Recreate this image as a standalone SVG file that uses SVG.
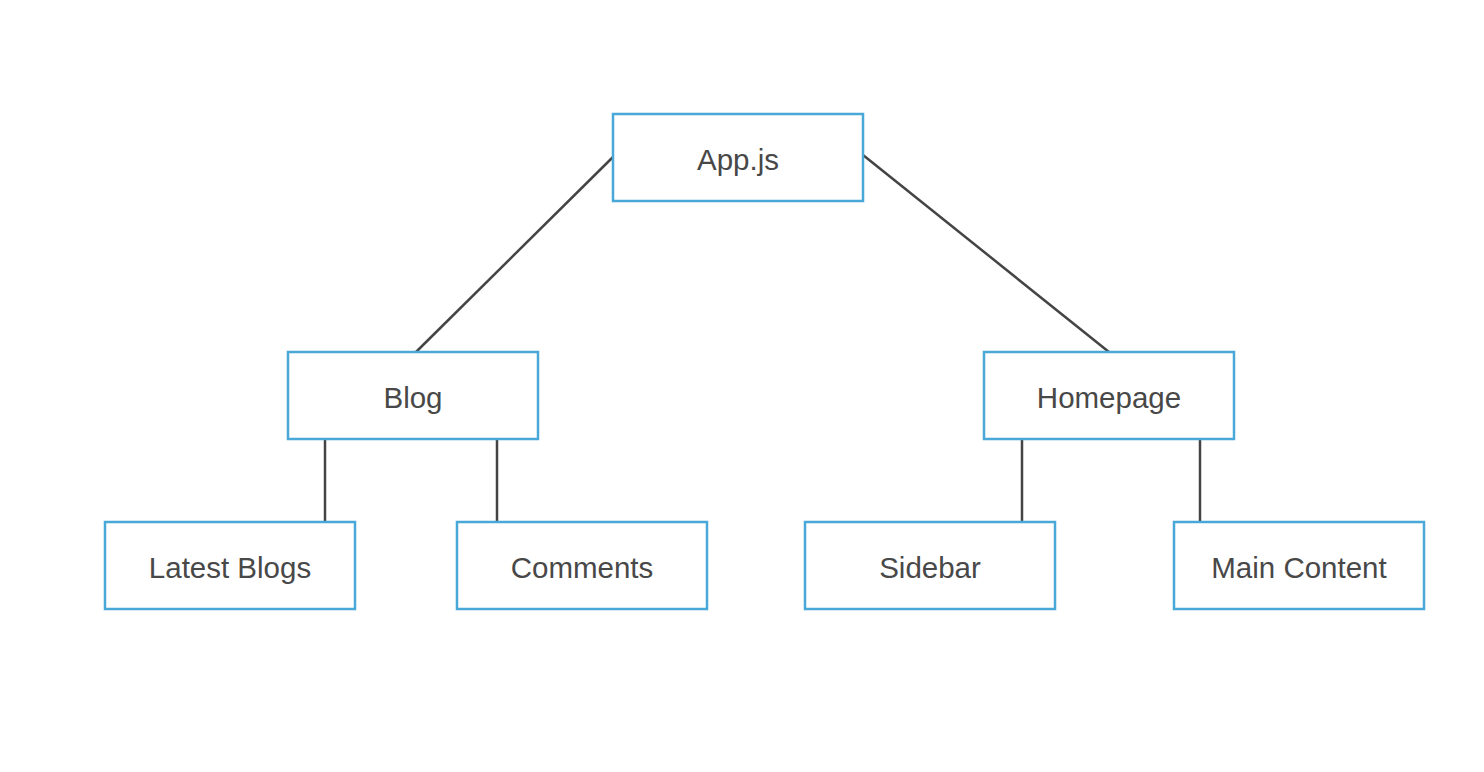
<svg xmlns="http://www.w3.org/2000/svg" width="1484" height="772" viewBox="0 0 1484 772">
<style>
.box{fill:#fff;stroke:#4aa8d8;stroke-width:2.5}
.lbl{font-family:"Liberation Sans",Arial,sans-serif;font-size:29.5px;fill:#484848;text-anchor:middle}
.conn line{stroke:#444;stroke-width:2.5}
</style>
<rect width="1484" height="772" fill="#fff"/>
<g id="connectors" class="conn">
<line x1="613" y1="157" x2="416" y2="352"/>
<line x1="863" y1="155" x2="1109" y2="352"/>
<line x1="325" y1="440" x2="325" y2="522"/>
<line x1="497" y1="440" x2="497" y2="522"/>
<line x1="1022" y1="440" x2="1022" y2="522"/>
<line x1="1200" y1="440" x2="1200" y2="522"/>
</g>
<g id="app"><rect class="box" x="613" y="114" width="250" height="87"/><text class="lbl" x="738" y="169.5">App.js</text></g>
<g id="blog"><rect class="box" x="288" y="352" width="250" height="87"/><text class="lbl" x="413" y="407.5">Blog</text></g>
<g id="homepage"><rect class="box" x="984" y="352" width="250" height="87"/><text class="lbl" x="1109" y="407.5">Homepage</text></g>
<g id="latest"><rect class="box" x="105" y="522" width="250" height="87"/><text class="lbl" x="230" y="577.5">Latest Blogs</text></g>
<g id="comments"><rect class="box" x="457" y="522" width="250" height="87"/><text class="lbl" x="582" y="577.5">Comments</text></g>
<g id="sidebar"><rect class="box" x="805" y="522" width="250" height="87"/><text class="lbl" x="930" y="577.5">Sidebar</text></g>
<g id="main"><rect class="box" x="1174" y="522" width="250" height="87"/><text class="lbl" x="1299" y="577.5">Main Content</text></g>
</svg>
